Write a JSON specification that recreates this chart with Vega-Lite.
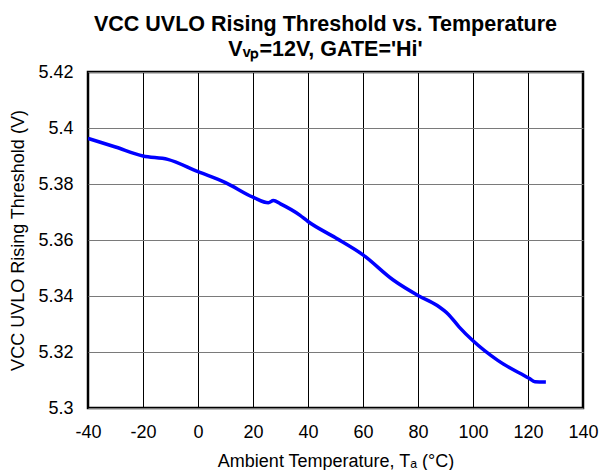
{
  "$schema": "https://vega.github.io/schema/vega-lite/v6.json",
  "width": 495,
  "height": 336,
  "autosize": {"type": "none"},
  "padding": {"left": 88, "top": 72, "right": 17, "bottom": 62},
  "background": "white",
  "title": {
    "text": ["VCC UVLO Rising Threshold vs. Temperature", "Vᵥₚ=12V, GATE='Hi'"],
    "font": "Liberation Sans",
    "fontSize": 21.5,
    "fontWeight": "bold",
    "color": "#000",
    "anchor": "middle",
    "frame": "group",
    "dx": -10,
    "offset": 3,
    "lineHeight": 25
  },
  "data": {
    "values": [
      {"temp": -40, "vth": 5.3963},
      {"temp": -30, "vth": 5.3932},
      {"temp": -20, "vth": 5.39},
      {"temp": -11, "vth": 5.3888},
      {"temp": 0, "vth": 5.3844},
      {"temp": 10, "vth": 5.3805},
      {"temp": 20, "vth": 5.3753},
      {"temp": 25.6, "vth": 5.3733},
      {"temp": 27.4, "vth": 5.3741},
      {"temp": 30, "vth": 5.3729},
      {"temp": 37, "vth": 5.3689},
      {"temp": 40, "vth": 5.3666},
      {"temp": 50, "vth": 5.3608},
      {"temp": 60, "vth": 5.3547},
      {"temp": 71, "vth": 5.3457},
      {"temp": 80, "vth": 5.3402},
      {"temp": 87, "vth": 5.3366},
      {"temp": 91, "vth": 5.3335},
      {"temp": 95, "vth": 5.3289},
      {"temp": 100, "vth": 5.324},
      {"temp": 109, "vth": 5.317},
      {"temp": 120.4, "vth": 5.3106},
      {"temp": 122.5, "vth": 5.3094},
      {"temp": 126.5, "vth": 5.3093}
    ]
  },
  "mark": {"type": "line", "color": "#0000FF", "strokeWidth": 3.5, "interpolate": "monotone", "clip": true},
  "encoding": {
    "x": {
      "field": "temp",
      "type": "quantitative",
      "scale": {"domain": [-40, 140], "nice": false},
      "axis": {
        "values": [-40, -20, 0, 20, 40, 60, 80, 100, 120, 140],
        "title": "Ambient Temperature, Tₐ (°C)",
        "labelExpr": "replace(datum.label, '−', '-')"
      }
    },
    "y": {
      "field": "vth",
      "type": "quantitative",
      "scale": {"domain": [5.3, 5.42], "nice": false, "zero": false},
      "axis": {
        "values": [5.3, 5.32, 5.34, 5.36, 5.38, 5.4, 5.42],
        "format": ".2~f",
        "title": "VCC UVLO Rising Threshold (V)"
      }
    }
  },
  "config": {
    "view": {"stroke": "#000", "strokeWidth": 2.5},
    "axis": {
      "domain": false,
      "ticks": false,
      "labelFont": "Liberation Sans",
      "labelFontSize": 18,
      "labelColor": "#000",
      "titleFont": "Liberation Sans",
      "titleFontSize": 18,
      "titleFontWeight": "normal",
      "titleColor": "#000",
      "gridOpacity": 1,
      "gridWidth": 1
    },
    "axisX": {"gridColor": "#000", "labelPadding": 15, "titlePadding": 11, "labelFlush": false},
    "axisY": {"gridColor": "#7a7a7a", "labelPadding": 15, "titlePadding": 10}
  }
}
